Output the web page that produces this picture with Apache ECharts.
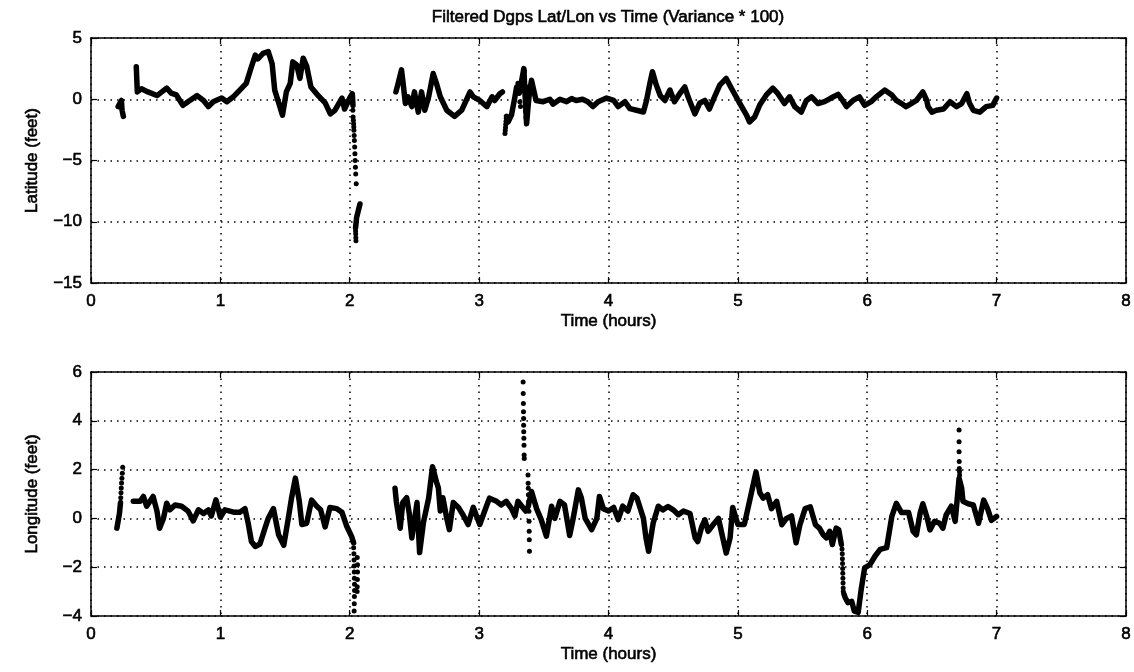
<!DOCTYPE html>
<html><head><meta charset="utf-8">
<script src="https://cdn.jsdelivr.net/npm/echarts@6/dist/echarts.min.js"></script>
<style>html,body{margin:0;padding:0;background:#fff}#c{width:1134px;height:672px}</style>
</head><body><div id="c"></div>
<script>
const titleText = 'Filtered Dgps Lat/Lon vs Time (Variance * 100)';
const xName = 'Time (hours)';
const latName = 'Latitude (feet)';
const lonName = 'Longitude (feet)';

// Latitude (top panel) – [hours, feet]
const latSeg1 = [[0.21,-0.6],[0.235,-0.1],[0.24,-0.9],[0.25,-1.4]];
const latSeg2 = [[0.35,2.65],[0.358,0.6],[0.39,0.85],[0.44,0.6],[0.51,0.3],[0.56,0.7],[0.585,0.9],[0.62,0.5],[0.66,0.35],[0.71,-0.5],[0.75,-0.2],[0.82,0.3],[0.87,-0.1],[0.907,-0.6],[0.945,-0.2],[1.01,0.1],[1.05,-0.2],[1.1,0.2],[1.15,0.75],[1.2,1.3],[1.24,2.65],[1.27,3.6],[1.29,3.3],[1.33,3.75],[1.37,3.9],[1.4,2.9],[1.42,0.75],[1.46,-0.6],[1.48,-1.3],[1.51,0.6],[1.54,1.3],[1.56,3.05],[1.59,2.8],[1.615,1.7],[1.64,3.35],[1.667,2.7],[1.7,1.0],[1.76,0.25],[1.81,-0.3],[1.85,-1.2],[1.885,-0.9],[1.94,0.1],[1.96,-0.8],[2.0,0.1],[2.02,0.45],[2.025,-0.5]];
const latDots1 = [[2.024,-0.9],[2.026,-1.45],[2.028,-1.72],[2.03,-2.0],[2.031,-2.27],[2.032,-2.54],[2.034,-2.95],[2.036,-3.36],[2.038,-3.9],[2.04,-4.45],[2.042,-5.0],[2.044,-5.55],[2.046,-6.1],[2.05,-6.9]];
const latSeg3 = [[2.079,-8.55],[2.066,-9.1],[2.053,-9.65],[2.045,-10.5]];
const latDots2 = [[2.045,-10.75],[2.046,-11.0],[2.047,-11.3],[2.048,-11.55]];
const latSeg4 = [[2.357,0.6],[2.374,1.3],[2.40,2.4],[2.41,1.55],[2.43,-0.35],[2.45,0.2],[2.48,-0.6],[2.50,0.6],[2.53,-1.05],[2.555,0.6],[2.58,-0.9],[2.61,0.2],[2.645,2.1],[2.67,1.3],[2.70,0.2],[2.75,-0.9],[2.81,-1.4],[2.865,-0.9],[2.93,0.6],[2.955,0.2],[3.005,-0.1],[3.06,-0.6],[3.10,0.2],[3.12,-0.1],[3.16,0.45],[3.18,0.6]];
const latDots3 = [[3.20,-2.8],[3.202,-2.55],[3.204,-2.3],[3.206,-2.05],[3.208,-1.8],[3.21,-1.55],[3.30,1.3],[3.305,0.8],[3.315,-0.2],[3.32,-0.6],[3.335,1.0],[3.34,1.9],[3.35,2.3],[3.36,-1.0],[3.362,-1.5],[3.37,1.0],[3.375,0.2]];
const latSeg5 = [[3.212,-1.4],[3.225,-1.85],[3.25,-1.3],[3.277,0.2],[3.29,1.0],[3.31,0.5],[3.33,1.6],[3.346,2.5],[3.355,0.4],[3.367,-2.0],[3.38,-0.4],[3.39,0.6],[3.405,1.55],[3.42,1.45],[3.44,-0.1],[3.495,-0.2],[3.547,0.0],[3.57,-0.4],[3.625,0.0],[3.676,-0.2],[3.715,0.05],[3.75,-0.1],[3.80,0.0],[3.84,-0.2],[3.88,-0.6],[3.92,-0.2],[3.985,0.1],[4.04,-0.1],[4.075,-0.6],[4.127,-0.2],[4.165,-0.77],[4.217,-0.9],[4.27,-1.04],[4.294,-0.1],[4.32,1.3],[4.34,2.25],[4.37,1.15],[4.40,0.3],[4.436,-0.1],[4.475,0.75],[4.51,-0.2],[4.55,0.45],[4.59,1.0],[4.615,0.2],[4.668,-1.2],[4.706,-0.3],[4.745,-0.1],[4.78,-0.8],[4.82,0.2],[4.86,1.15],[4.91,1.7],[4.95,0.9],[5.016,-0.35],[5.067,-1.3],[5.09,-1.85],[5.13,-1.45],[5.17,-0.45],[5.22,0.35],[5.27,0.9],[5.31,0.45],[5.36,-0.35],[5.40,0.2],[5.44,-0.6],[5.49,-1.05],[5.53,-0.1],[5.57,0.2],[5.62,-0.35],[5.67,-0.2],[5.72,0.1],[5.775,0.4],[5.81,-0.1],[5.84,-0.6],[5.89,-0.1],[5.94,0.2],[5.98,-0.5],[6.03,-0.2],[6.07,0.2],[6.135,0.75],[6.19,0.35],[6.225,-0.1],[6.265,-0.35],[6.30,-0.6],[6.34,-0.35],[6.38,-0.1],[6.43,0.6],[6.46,-0.1],[6.47,-0.6],[6.50,-1.05],[6.535,-0.9],[6.59,-0.8],[6.64,-0.2],[6.69,-0.6],[6.73,-0.35],[6.77,0.45],[6.79,-0.3],[6.82,-0.9],[6.87,-1.05],[6.92,-0.6],[6.97,-0.5],[7.0,0.1]];

// Longitude (bottom panel) – [hours, feet]
const lonSeg1 = [[0.2,-0.4],[0.21,-0.35],[0.22,0.2],[0.228,0.65]];
const lonDots1 = [[0.23,0.85],[0.232,1.05],[0.234,1.25],[0.236,1.45],[0.239,1.65],[0.242,1.85],[0.245,2.1]];
const lonSeg2 = [[0.327,0.7],[0.34,0.75],[0.38,0.7],[0.405,0.9],[0.43,0.5],[0.48,0.9],[0.51,0.3],[0.53,-0.4],[0.56,0.0],[0.585,0.62],[0.61,0.35],[0.65,0.55],[0.70,0.5],[0.75,0.3],[0.79,-0.1],[0.83,0.35],[0.87,0.2],[0.907,0.35],[0.93,0.1],[0.966,0.76],[1.0,0.05],[1.035,0.35],[1.074,0.3],[1.11,0.25],[1.15,0.25],[1.19,0.4],[1.215,-0.2],[1.24,-0.95],[1.27,-1.15],[1.306,-1.05],[1.345,-0.4],[1.37,0.0],[1.41,0.4],[1.45,-0.67],[1.49,-1.1],[1.525,0.0],[1.55,0.83],[1.58,1.65],[1.61,0.7],[1.63,-0.25],[1.667,-0.2],[1.705,0.75],[1.745,0.5],[1.775,0.35],[1.81,-0.35],[1.847,0.45],[1.90,0.4],[1.94,0.25],[1.975,-0.3],[2.015,-0.75],[2.03,-1.0]];
const lonDots2 = [[2.03,-1.2],[2.032,-1.45],[2.033,-1.7],[2.034,-1.95],[2.035,-2.2],[2.036,-2.45],[2.037,-2.7],[2.037,-2.95],[2.036,-3.2],[2.035,-3.5],[2.034,-3.8],[2.058,-1.6],[2.06,-1.9],[2.06,-2.2],[2.059,-2.5],[2.058,-2.8],[2.057,-3.0]];
const lonSeg3 = [[2.35,1.24],[2.36,0.7],[2.38,0.0],[2.39,-0.4],[2.41,0.65],[2.44,0.85],[2.46,0.2],[2.48,-0.8],[2.52,0.65],[2.54,-1.4],[2.57,-0.15],[2.61,0.83],[2.64,2.12],[2.67,1.5],[2.685,1.25],[2.70,0.3],[2.72,0.85],[2.75,0.0],[2.77,-0.46],[2.80,0.65],[2.84,0.45],[2.875,0.15],[2.915,-0.25],[2.955,0.45],[3.005,-0.25],[3.06,0.55],[3.08,0.83],[3.135,0.7],[3.17,0.55],[3.21,0.7],[3.25,0.4],[3.277,0.1],[3.30,0.7],[3.33,0.5],[3.36,0.3],[3.38,0.5],[3.405,1.1],[3.444,0.4],[3.48,-0.05],[3.52,-0.73],[3.56,0.5],[3.585,0.0],[3.625,0.7],[3.66,0.55],[3.70,-0.7],[3.727,0.0],[3.767,1.17],[3.79,0.85],[3.82,0.0],[3.87,-0.46],[3.91,0.0],[3.93,0.9],[3.96,0.4],[4.0,0.3],[4.04,0.45],[4.075,-0.05],[4.11,0.5],[4.15,0.3],[4.19,0.97],[4.22,0.83],[4.24,0.5],[4.27,0.0],[4.29,-0.8],[4.31,-1.35],[4.345,-0.2],[4.385,0.5],[4.42,0.35],[4.46,0.49],[4.50,0.35],[4.54,0.15],[4.58,0.3],[4.63,0.2],[4.67,-0.8],[4.69,-0.95],[4.72,-0.35],[4.745,-0.06],[4.77,-0.53],[4.81,-0.25],[4.85,0.0],[4.89,-0.95],[4.91,-1.42],[4.94,-0.8],[4.96,0.45],[5.0,-0.25],[5.05,-0.25],[5.09,0.7],[5.14,1.9],[5.17,1.05],[5.195,0.83],[5.23,0.97],[5.26,0.4],[5.30,0.7],[5.34,-0.26],[5.375,0.0],[5.415,0.1],[5.45,-1.0],[5.48,-0.26],[5.52,0.4],[5.56,0.47],[5.60,-0.26],[5.63,-0.4],[5.66,-0.67],[5.685,-0.8],[5.71,-0.53],[5.73,-1.07],[5.76,-0.4],[5.78,-0.47],[5.80,-1.07]];
const lonDots3 = [[5.805,-1.25],[5.807,-1.45],[5.808,-1.65],[5.809,-1.85],[5.81,-2.05],[5.811,-2.25],[5.812,-2.45],[5.813,-2.65],[5.814,-2.85],[5.815,-3.0]];
const lonSeg4 = [[5.82,-3.1],[5.83,-3.25],[5.85,-3.45],[5.88,-3.4],[5.90,-3.8],[5.93,-3.85],[5.955,-2.85],[5.98,-2.03],[6.02,-1.9],[6.06,-1.55],[6.10,-1.27],[6.15,-1.2],[6.19,0.08],[6.225,0.62],[6.265,0.24],[6.32,0.24],[6.355,-0.53],[6.38,-0.67],[6.41,0.24],[6.43,0.6],[6.46,0.08],[6.485,-0.47],[6.52,-0.12],[6.56,-0.2],[6.585,-0.4],[6.61,0.14],[6.65,0.5],[6.68,-0.12],[6.71,1.65],[6.73,1.24],[6.74,0.7],[6.78,0.6],[6.82,0.55],[6.86,-0.2],[6.90,0.75],[6.93,0.4],[6.96,-0.08],[7.0,0.08]];
const lonDots4 = [[3.34,5.59],[3.341,5.12],[3.342,4.71],[3.343,4.37],[3.344,4.09],[3.344,3.82],[3.345,3.55],[3.346,3.28],[3.347,3.0],[3.348,2.6],[3.349,2.46],[3.378,1.78],[3.379,1.44],[3.38,1.24],[3.381,0.97],[3.383,0.69],[3.385,0.29],[3.386,-0.12],[3.387,-0.53],[3.388,-0.87],[3.389,-1.35]];
const lonDots5 = [[6.71,3.62],[6.71,3.14],[6.71,2.73],[6.711,2.33],[6.712,2.05],[6.713,1.92],[6.714,1.78]];

const latTicks = {min:-15, max:5, interval:5};
const lonTicks = {min:-4, max:6, interval:2};
const xTicks = {min:0, max:8, interval:1};

const FONT = 'Liberation Sans, Arial, Helvetica, sans-serif';
const fmt = v => v < 0 ? '\u2212' + Math.abs(v) : String(v);
const TXT = {color: '#000', fontSize: 17, fontFamily: FONT, textBorderColor: '#000', textBorderWidth: 0.6};

function xAx(grid, pos) {
  const main = pos === 'bottom';
  return {
    gridIndex: grid, type: 'value', position: pos, min: xTicks.min, max: xTicks.max, interval: xTicks.interval,
    axisLine: {onZero: false, lineStyle: {color: '#000', width: 1.5}},
    axisTick: {inside: true, length: 6, lineStyle: {color: '#000', width: 1.2}},
    axisLabel: Object.assign({show: main, margin: 10}, TXT),
    splitLine: {show: main, lineStyle: {color: '#000', width: 1.5, type: [1.5, 5]}},
    name: main ? xName : '', nameLocation: 'middle', nameGap: 30,
    nameTextStyle: TXT
  };
}
function yAx(grid, pos, t, nm) {
  const main = pos === 'left';
  return {
    gridIndex: grid, type: 'value', position: pos, min: t.min, max: t.max, interval: t.interval,
    axisLine: {onZero: false, lineStyle: {color: '#000', width: 1.5}},
    axisTick: {inside: true, length: 6, lineStyle: {color: '#000', width: 1.2}},
    axisLabel: Object.assign({show: main, margin: 9, formatter: fmt}, TXT),
    splitLine: {show: main, lineStyle: {color: '#000', width: 1.5, type: [1.5, 5]}},
    name: main ? nm : '', nameLocation: 'middle', nameGap: 50,
    nameTextStyle: TXT
  };
}
function line(data, g) {
  return {type: 'line', data: data, xAxisIndex: g * 2, yAxisIndex: g * 2, symbol: 'none', silent: true,
    lineStyle: {color: '#000', width: 5.5, cap: 'round', join: 'round', opacity: 1}, z: 3};
}
function dots(data, g) {
  return {type: 'scatter', data: data, xAxisIndex: g * 2, yAxisIndex: g * 2, symbolSize: 5, silent: true,
    itemStyle: {color: '#000', opacity: 1}, z: 4};
}

const chart = echarts.init(document.getElementById('c'), null, {renderer: 'canvas'});
chart.setOption({
  animation: false,
  backgroundColor: '#fff',
  graphic: [{type: 'text', x: 608, y: 9, style: {text: titleText, textAlign: 'center', textVerticalAlign: 'top',
    font: '17px ' + FONT, fill: '#000', stroke: '#000', lineWidth: 0.6}}],
  grid: [
    {left: 91, right: 8, top: 38, height: 245},
    {left: 91, right: 8, top: 372, height: 244}
  ],
  xAxis: [xAx(0, 'bottom'), xAx(0, 'top'), xAx(1, 'bottom'), xAx(1, 'top')],
  yAxis: [yAx(0, 'left', latTicks, latName), yAx(0, 'right', latTicks, ''), yAx(1, 'left', lonTicks, lonName), yAx(1, 'right', lonTicks, '')],
  series: [
    line(latSeg1, 0), line(latSeg2, 0), dots(latDots1, 0), line(latSeg3, 0), dots(latDots2, 0),
    line(latSeg4, 0), dots(latDots3, 0), line(latSeg5, 0),
    line(lonSeg1, 1), dots(lonDots1, 1), line(lonSeg2, 1), dots(lonDots2, 1), line(lonSeg3, 1),
    dots(lonDots3, 1), line(lonSeg4, 1), dots(lonDots4, 1), dots(lonDots5, 1)
  ]
});
</script></body></html>
